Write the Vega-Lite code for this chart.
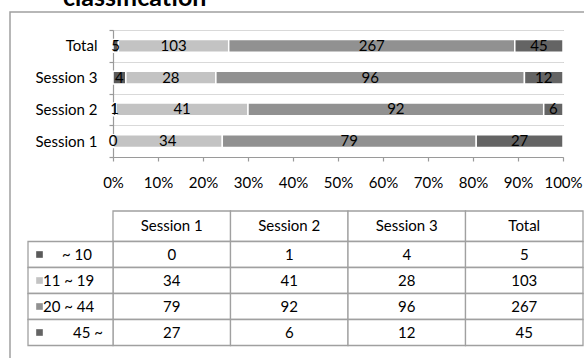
{
  "$schema": "https://vega.github.io/schema/vega-lite/v6.json",
  "width": 574,
  "height": 346,
  "autosize": {"type": "none"},
  "padding": {"left": 10, "top": 12, "right": 0, "bottom": 0},
  "background": "white",
  "title": {
    "text": "classification",
    "anchor": "start",
    "frame": "group",
    "dx": 53,
    "dy": 26,
    "offset": 0,
    "baseline": "alphabetic",
    "font": "Lato",
    "fontSize": 25,
    "fontWeight": "bold",
    "color": "#000000"
  },
  "config": {
    "view": {"stroke": "#a0a0a0", "strokeWidth": 1.5, "strokeDash": [574, 920, 346]},
    "font": "Lato",
    "text": {"font": "Lato", "fontSize": 15, "color": "#000000"}
  },
  "datasets": {
    "counts": [
      {"session": "Session 1", "group": "~ 10", "count": 0},
      {"session": "Session 1", "group": "11 ~ 19", "count": 34},
      {"session": "Session 1", "group": "20 ~ 44", "count": 79},
      {"session": "Session 1", "group": "45 ~", "count": 27},
      {"session": "Session 2", "group": "~ 10", "count": 1},
      {"session": "Session 2", "group": "11 ~ 19", "count": 41},
      {"session": "Session 2", "group": "20 ~ 44", "count": 92},
      {"session": "Session 2", "group": "45 ~", "count": 6},
      {"session": "Session 3", "group": "~ 10", "count": 4},
      {"session": "Session 3", "group": "11 ~ 19", "count": 28},
      {"session": "Session 3", "group": "20 ~ 44", "count": 96},
      {"session": "Session 3", "group": "45 ~", "count": 12},
      {"session": "Total", "group": "~ 10", "count": 5},
      {"session": "Total", "group": "11 ~ 19", "count": 103},
      {"session": "Total", "group": "20 ~ 44", "count": 267},
      {"session": "Total", "group": "45 ~", "count": 45}
    ]
  },
  "data": {"name": "counts"},
  "transform": [
    {"calculate": "indexof(['~ 10', '11 ~ 19', '20 ~ 44', '45 ~'], datum.group)", "as": "k"},
    {"stack": "count", "groupby": ["session"], "sort": [{"field": "k", "order": "ascending"}], "offset": "normalize", "as": ["x0", "x1"]},
    {"calculate": "(datum.x0 + datum.x1) / 2", "as": "mid"}
  ],
  "layer": [
    {
      "transform": [{"filter": "datum.count > 0"}],
      "mark": {"type": "bar", "height": {"band": 0.4}, "stroke": "white", "strokeWidth": 1.5},
      "encoding": {
        "y": {
          "field": "session", "type": "nominal",
          "scale": {"domain": ["Total", "Session 3", "Session 2", "Session 1"], "range": [18, 145], "paddingInner": 0, "paddingOuter": 0},
          "axis": {
            "orient": "left", "offset": -103, "title": null,
            "tickBand": "extent", "grid": true, "gridColor": "#9a9a9a", "gridWidth": 1.2,
            "domainColor": "#9a9a9a", "domainWidth": 1.2, "tickColor": "#9a9a9a", "tickWidth": 1.2, "tickSize": 4,
            "labelFont": "Lato", "labelFontSize": 15, "labelColor": "#000000", "labelPadding": 12
          }
        },
        "x": {
          "field": "x0", "type": "quantitative",
          "scale": {"domain": [0, 1], "range": [103, 553], "nice": false, "zero": false},
          "axis": {
            "orient": "bottom", "offset": -201, "title": null,
            "values": [0, 0.1, 0.2, 0.3, 0.4, 0.5, 0.6, 0.7, 0.8, 0.9, 1], "format": ".0%",
            "grid": true, "gridColor": "#9a9a9a", "gridWidth": 1.2,
            "domainColor": "#9a9a9a", "domainWidth": 1.2, "tickColor": "#9a9a9a", "tickWidth": 1.2, "tickSize": 4,
            "labelFont": "Lato", "labelFontSize": 15, "labelColor": "#000000", "labelPadding": 14,
            "labelFlush": false, "labelOverlap": false
          }
        },
        "x2": {"field": "x1"},
        "color": {
          "field": "group", "type": "nominal",
          "scale": {"domain": ["~ 10", "11 ~ 19", "20 ~ 44", "45 ~"], "range": ["#5a5a5a", "#c3c3c3", "#919191", "#646464"]},
          "legend": null
        }
      }
    },
    {
      "mark": {"type": "text", "align": "center", "baseline": "middle"},
      "encoding": {
        "y": {
          "field": "session", "type": "nominal",
          "scale": {"domain": ["Total", "Session 3", "Session 2", "Session 1"], "range": [18, 145], "paddingInner": 0, "paddingOuter": 0},
          "axis": {
            "orient": "left", "offset": -103, "title": null,
            "tickBand": "extent", "tickOffset": 2, "grid": true, "gridColor": "#d9d9d9", "gridWidth": 1.2,
            "domain": false, "ticks": false, "labels": false
          }
        },
        "x": {
          "field": "mid", "type": "quantitative",
          "scale": {"domain": [0, 1], "range": [103, 553], "nice": false, "zero": false},
          "axis": null
        },
        "text": {"field": "count", "type": "quantitative"}
      }
    },
    {
      "transform": [{"aggregate": [{"op": "count", "as": "n"}], "groupby": ["session"]}],
      "encoding": {
        "x": {
          "field": "session", "type": "nominal",
          "scale": {"domain": ["Session 1", "Session 2", "Session 3", "Total"], "range": [103, 573], "paddingInner": 0, "paddingOuter": 0},
          "axis": null
        },
        "y": {
          "datum": "head", "type": "nominal",
          "scale": {"domain": ["head"], "range": [199, 229.5], "paddingInner": 0, "paddingOuter": 0},
          "axis": null
        }
      },
      "layer": [
        {"mark": {"type": "rect", "fill": "white", "stroke": "#a0a0a0", "strokeWidth": 1.3}},
        {"mark": {"type": "text", "align": "center", "baseline": "middle"}, "encoding": {"text": {"field": "session"}}}
      ]
    },
    {
      "encoding": {
        "x": {
          "field": "session", "type": "nominal",
          "scale": {"domain": ["Session 1", "Session 2", "Session 3", "Total"], "range": [103, 573], "paddingInner": 0, "paddingOuter": 0},
          "axis": null
        },
        "y": {
          "field": "group", "type": "nominal",
          "scale": {"domain": ["~ 10", "11 ~ 19", "20 ~ 44", "45 ~"], "range": [229.5, 333.5], "paddingInner": 0, "paddingOuter": 0},
          "axis": null
        }
      },
      "layer": [
        {"mark": {"type": "rect", "fill": "white", "stroke": "#a0a0a0", "strokeWidth": 1.3}},
        {"mark": {"type": "text", "align": "center", "baseline": "middle"}, "encoding": {"text": {"field": "count", "type": "quantitative"}}}
      ]
    },
    {
      "transform": [{"aggregate": [{"op": "count", "as": "n"}], "groupby": ["group"]}],
      "encoding": {
        "x": {
          "datum": "label", "type": "nominal",
          "scale": {"domain": ["label"], "range": [18, 103], "paddingInner": 0, "paddingOuter": 0},
          "axis": null
        },
        "y": {
          "field": "group", "type": "nominal",
          "scale": {"domain": ["~ 10", "11 ~ 19", "20 ~ 44", "45 ~"], "range": [229.5, 333.5], "paddingInner": 0, "paddingOuter": 0},
          "axis": null
        }
      },
      "mark": {"type": "rect", "fill": "white", "stroke": "#a0a0a0", "strokeWidth": 1.3}
    },
    {
      "transform": [{"aggregate": [{"op": "count", "as": "n"}], "groupby": ["group"]}],
      "mark": {"type": "square", "size": 44, "opacity": 1},
      "encoding": {
        "x": {
          "datum": "key", "type": "nominal",
          "scale": {"type": "point", "domain": ["key"], "range": [29.5, 29.5]},
          "axis": null
        },
        "y": {
          "field": "group", "type": "nominal",
          "scale": {"domain": ["~ 10", "11 ~ 19", "20 ~ 44", "45 ~"], "range": [229.5, 333.5], "paddingInner": 0, "paddingOuter": 0},
          "axis": null
        },
        "color": {
          "field": "group", "type": "nominal",
          "scale": {"domain": ["~ 10", "11 ~ 19", "20 ~ 44", "45 ~"], "range": ["#5a5a5a", "#c3c3c3", "#919191", "#646464"]},
          "legend": null
        }
      }
    },
    {
      "transform": [
        {"aggregate": [{"op": "count", "as": "n"}], "groupby": ["group"]},
        {"filter": "datum.group === '11 ~ 19' || datum.group === '20 ~ 44'"}
      ],
      "mark": {"type": "text", "align": "left", "baseline": "middle"},
      "encoding": {
        "x": {
          "datum": "text", "type": "nominal",
          "scale": {"type": "point", "domain": ["text"], "range": [33, 33]},
          "axis": null
        },
        "y": {
          "field": "group", "type": "nominal",
          "scale": {"domain": ["~ 10", "11 ~ 19", "20 ~ 44", "45 ~"], "range": [229.5, 333.5], "paddingInner": 0, "paddingOuter": 0},
          "axis": null
        },
        "text": {"field": "group"}
      }
    },
    {
      "transform": [
        {"aggregate": [{"op": "count", "as": "n"}], "groupby": ["group"]},
        {"filter": "datum.group === '~ 10'"}
      ],
      "mark": {"type": "text", "align": "left", "baseline": "middle"},
      "encoding": {
        "x": {
          "datum": "text", "type": "nominal",
          "scale": {"type": "point", "domain": ["text"], "range": [52, 52]},
          "axis": null
        },
        "y": {
          "field": "group", "type": "nominal",
          "scale": {"domain": ["~ 10", "11 ~ 19", "20 ~ 44", "45 ~"], "range": [229.5, 333.5], "paddingInner": 0, "paddingOuter": 0},
          "axis": null
        },
        "text": {"field": "group"}
      }
    },
    {
      "transform": [
        {"aggregate": [{"op": "count", "as": "n"}], "groupby": ["group"]},
        {"filter": "datum.group === '45 ~'"}
      ],
      "mark": {"type": "text", "align": "right", "baseline": "middle"},
      "encoding": {
        "x": {
          "datum": "text", "type": "nominal",
          "scale": {"type": "point", "domain": ["text"], "range": [93, 93]},
          "axis": null
        },
        "y": {
          "field": "group", "type": "nominal",
          "scale": {"domain": ["~ 10", "11 ~ 19", "20 ~ 44", "45 ~"], "range": [229.5, 333.5], "paddingInner": 0, "paddingOuter": 0},
          "axis": null
        },
        "text": {"field": "group"}
      }
    }
  ],
  "resolve": {"scale": {"x": "independent", "y": "independent"}}
}
